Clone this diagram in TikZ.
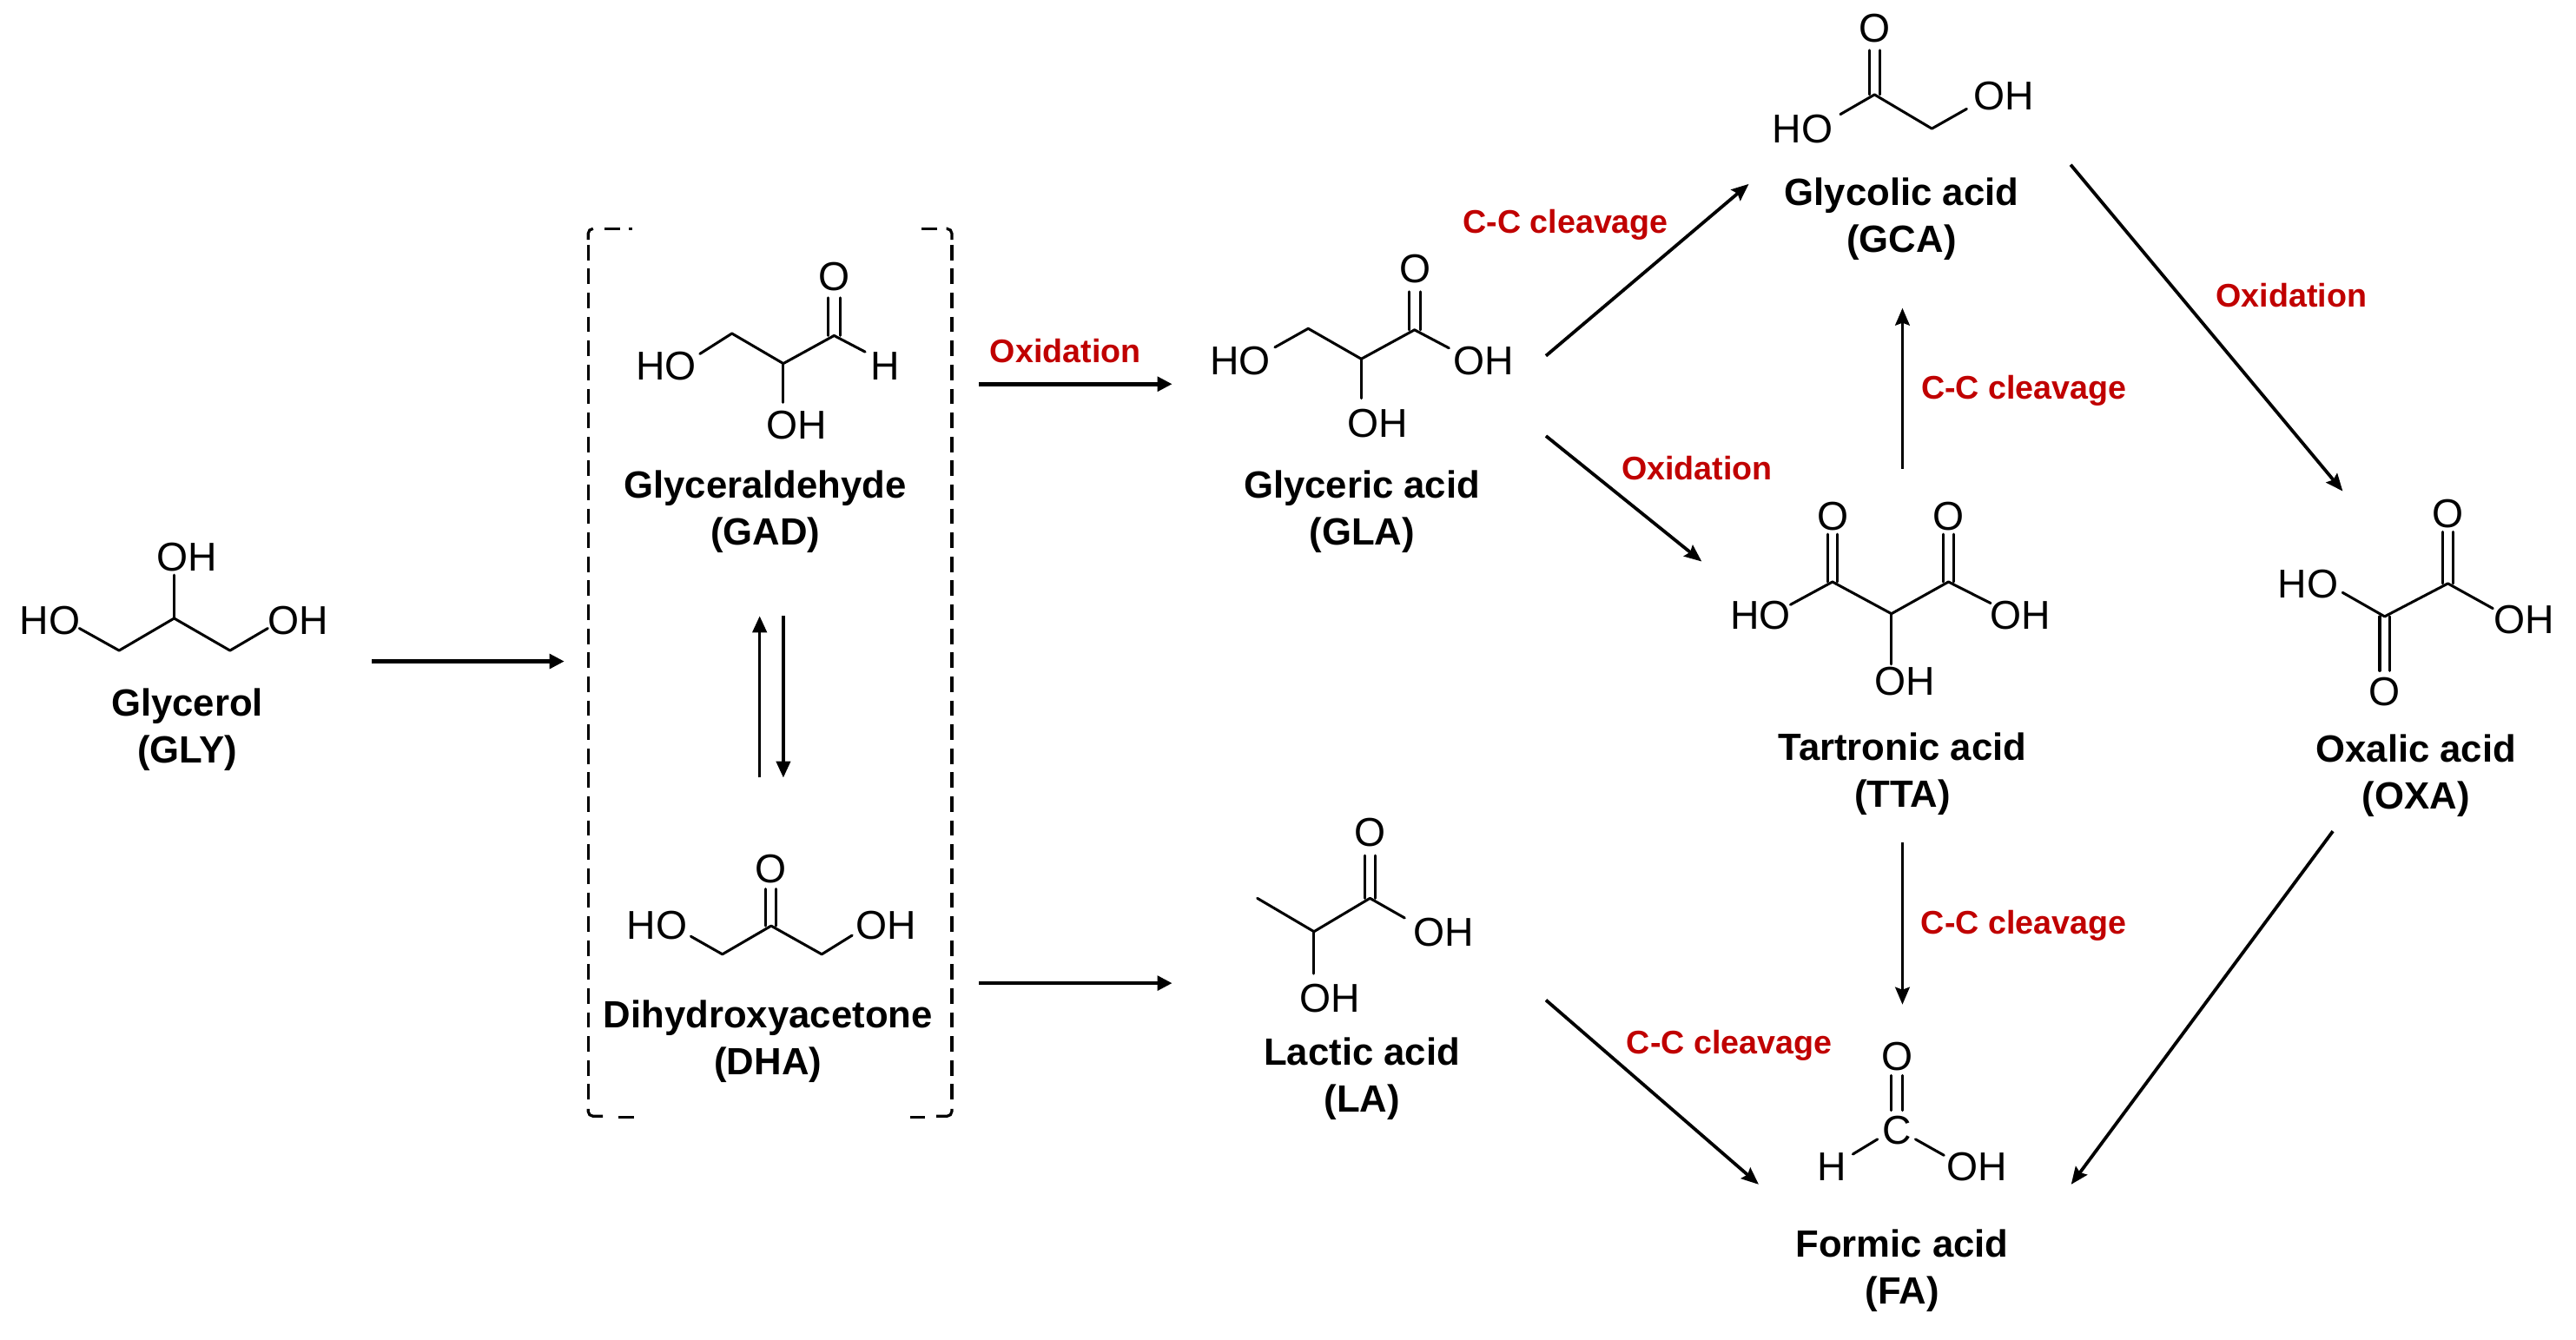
\documentclass[tikz,border=0pt]{standalone}
\usepackage{fontspec}
\setmainfont{Liberation Sans}
\usetikzlibrary{arrows.meta}
\definecolor{rxnred}{HTML}{C00000}
\tikzset{
  atom/.style={inner sep=0pt,font=\fontsize{24.5}{28}\selectfont},
  cname/.style={inner sep=0pt,align=center,font=\fontsize{23.1}{28.6}\selectfont\bfseries},
  rxn/.style={inner sep=0pt,text=rxnred,font=\fontsize{19.9}{24}\selectfont\bfseries},
  bond/.style={line width=1.6pt,line join=round,line cap=round},
  heavy/.style={line width=2.4pt,-{Triangle[length=9pt,width=8.7pt]}},
  thin arrow/.style={line width=2pt,-{Stealth[length=10.5pt,width=8.7pt,inset=1.5pt]}},
  updown/.style={line width=1.8pt,-{Triangle[length=10pt,width=8.6pt]}},
  brk/.style={line width=1.7pt,dash pattern=on 9.4pt off 5.2pt},
  brkcap/.style={line width=1.7pt},
}
\begin{document}
\begin{tikzpicture}[x=1pt,y=-1pt]
\useasboundingbox (0,0) rectangle (1568,815.2);

% ---------- text nodes
\node[atom] (glyHO) at (30.5,378) {HO};
\node[atom] (glyOHt) at (114,339.3) {OH};
\node[atom] (glyOHr) at (181.5,378) {OH};
\node[cname] (gly) at (114,444) {Glycerol\\(GLY)};

\node[atom] (gadHO) at (405.5,222.8) {HO};
\node[atom] (gadO) at (507.7,168.3) {O};
\node[atom] (gadH) at (539,222.8) {H};
\node[atom] (gadOH) at (485,258.9) {OH};
\node[cname] (gad) at (465.8,311.5) {Glyceraldehyde\\(GAD)};

\node[atom] (dhaHO) at (400,563.5) {HO};
\node[atom] (dhaO) at (469.4,529.1) {O};
\node[atom] (dhaOH) at (539.5,563.5) {OH};
\node[cname] (dha) at (467.5,634) {Dihydroxyacetone\\(DHA)};

\node[atom] (glaHO) at (755,219.7) {HO};
\node[atom] (glaO) at (861.6,163.8) {O};
\node[atom] (glaOHr) at (903,219.7) {OH};
\node[atom] (glaOHb) at (838.7,257.5) {OH};
\node[cname] (gla) at (829,311.5) {Glyceric acid\\(GLA)};

\node[atom] (laO) at (833.9,507) {O};
\node[atom] (laOHr) at (878.6,567.4) {OH};
\node[atom] (laOHb) at (809.3,607.7) {OH};
\node[cname] (la) at (829,656.5) {Lactic acid\\(LA)};

\node[atom] (gcaO) at (1141,17.1) {O};
\node[atom] (gcaHO) at (1097.3,78.6) {HO};
\node[atom] (gcaOH) at (1219.8,58.5) {OH};
\node[cname] (gca) at (1157.5,133.3) {Glycolic acid\\(GCA)};

\node[atom] (ttaO1) at (1115.5,314.1) {O};
\node[atom] (ttaO2) at (1186,314.1) {O};
\node[atom] (ttaHO) at (1071.7,374.6) {HO};
\node[atom] (ttaOHr) at (1230,374.6) {OH};
\node[atom] (ttaOHb) at (1159.5,415) {OH};
\node[cname] (tta) at (1158,471) {Tartronic acid\\(TTA)};

\node[atom] (oxaO1) at (1490,312.5) {O};
\node[atom] (oxaO2) at (1451.5,420.9) {O};
\node[atom] (oxaHO) at (1404.9,355.5) {HO};
\node[atom] (oxaOH) at (1536.4,377.2) {OH};
\node[cname] (oxa) at (1470.6,472) {Oxalic acid\\(OXA)};

\node[atom] (faO) at (1154.6,642.9) {O};
\node[atom] (faC) at (1154.6,688.3) {C};
\node[atom] (faH) at (1115.3,710.2) {H};
\node[atom] (faOH) at (1203.2,710.2) {OH};
\node[cname] (fa) at (1157.8,773.5) {Formic acid\\(FA)};

\node[rxn] (r1) at (648.5,213.7) {Oxidation};
\node[rxn] (r2) at (953,137) {C-C cleavage};
\node[rxn] (r3) at (1033,285) {Oxidation};
\node[rxn] (r4) at (1232,238) {C-C cleavage};
\node[rxn] (r5) at (1394.8,180) {Oxidation};
\node[rxn] (r6) at (1231.8,563.6) {C-C cleavage};
\node[rxn] (r7) at (1052.6,636.5) {C-C cleavage};

% ---------- bonds
% glycerol
\coordinate (g1) at (48.3,382.5);
\coordinate (g2) at (72.5,396);
\coordinate (g3) at (106,376.4);
\coordinate (g4) at (106,350);
\coordinate (g5) at (140,396);
\coordinate (g6) at (163,382.5);
\draw[bond] (g1) -- (g2) -- (g3) -- (g5) -- (g6);
\draw[bond] (g3) -- (g4);

% glyceraldehyde
\coordinate (a1) at (426,215.4);
\coordinate (a2) at (445.5,203);
\coordinate (a3) at (476.8,221.3);
\coordinate (a4) at (476.8,245);
\coordinate (a5) at (507.7,204.3);
\coordinate (a6) at (526.6,214.2);
\draw[bond] (a1) -- (a2) -- (a3) -- (a5) -- (a6);
\draw[bond] (a3) -- (a4);
\draw[bond] ([xshift=-3.6pt]a5) -- ++(0,-23);
\draw[bond] ([xshift=3.6pt]a5) -- ++(0,-23);

% dihydroxyacetone
\coordinate (d1) at (420.5,570);
\coordinate (d2) at (439.7,580.9);
\coordinate (d3) at (469.4,563.6);
\coordinate (d4) at (500.2,580.9);
\coordinate (d5) at (518.7,569.4);
\draw[bond] (d1) -- (d2) -- (d3) -- (d4) -- (d5);
\draw[bond] ([xshift=-3.2pt]d3) -- ++(0,-22.5);
\draw[bond] ([xshift=3.2pt]d3) -- ++(0,-22.5);

% glyceric acid
\coordinate (e1) at (776,211.4);
\coordinate (e2) at (796.3,200);
\coordinate (e3) at (828.6,218.5);
\coordinate (e4) at (828.6,242.5);
\coordinate (e5) at (861,200.8);
\coordinate (e6) at (882,211.9);
\draw[bond] (e1) -- (e2) -- (e3) -- (e5) -- (e6);
\draw[bond] (e3) -- (e4);
\draw[bond] ([xshift=-3.4pt]e5) -- ++(0,-23.2);
\draw[bond] ([xshift=3.4pt]e5) -- ++(0,-23.2);

% lactic acid
\coordinate (l1) at (765.3,546.8);
\coordinate (l2) at (799.8,567.1);
\coordinate (l3) at (799.8,592.7);
\coordinate (l4) at (833.9,546.8);
\coordinate (l5) at (855,558.8);
\draw[bond] (l1) -- (l2) -- (l4) -- (l5);
\draw[bond] (l2) -- (l3);
\draw[bond] ([xshift=-3.2pt]l4) -- ++(0,-26);
\draw[bond] ([xshift=3.2pt]l4) -- ++(0,-26);

% glycolic acid
\coordinate (c1) at (1120.2,69.6);
\coordinate (c2) at (1141,57.6);
\coordinate (c3) at (1175.9,78.3);
\coordinate (c4) at (1197.1,66.3);
\draw[bond] (c1) -- (c2) -- (c3) -- (c4);
\draw[bond] ([xshift=-3.2pt]c2) -- ++(0,-27);
\draw[bond] ([xshift=3.2pt]c2) -- ++(0,-27);

% tartronic acid
\coordinate (t1) at (1089.8,368.1);
\coordinate (t2) at (1115.4,354.2);
\coordinate (t3) at (1151.3,373.6);
\coordinate (t4) at (1186,354.2);
\coordinate (t5) at (1211.7,367.2);
\coordinate (t6) at (1151.3,404.4);
\draw[bond] (t1) -- (t2) -- (t3) -- (t4) -- (t5);
\draw[bond] (t3) -- (t6);
\draw[bond] ([xshift=-3pt]t2) -- ++(0,-29);
\draw[bond] ([xshift=3pt]t2) -- ++(0,-29);
\draw[bond] ([xshift=-3pt]t4) -- ++(0,-29);
\draw[bond] ([xshift=3pt]t4) -- ++(0,-29);

% oxalic acid
\coordinate (o1) at (1425.9,360.7);
\coordinate (o2) at (1451.5,375.3);
\coordinate (o3) at (1490,355.2);
\coordinate (o4) at (1517.4,370.4);
\draw[bond] (o1) -- (o2) -- (o3) -- (o4);
\draw[bond] ([xshift=-3pt]o3) -- ++(0,-31.5);
\draw[bond] ([xshift=3pt]o3) -- ++(0,-31.5);
\draw[bond] ([xshift=-3pt]o2) -- ++(0,33);
\draw[bond] ([xshift=3pt]o2) -- ++(0,33);

% formic acid
\coordinate (f1) at (1127.8,702.6);
\coordinate (f2) at (1142.8,693.5);
\coordinate (f3) at (1165.9,693.5);
\coordinate (f4) at (1183.3,703.3);
\coordinate (f5) at (1154.6,676);
\draw[bond] (f1) -- (f2);
\draw[bond] (f3) -- (f4);
\draw[bond] ([xshift=-3.4pt]f5) -- ++(0,-21.3);
\draw[bond] ([xshift=3.4pt]f5) -- ++(0,-21.3);

% ---------- bracket
\coordinate (bl1) at (358,149);
\coordinate (bl2) at (358,672);
\coordinate (br1) at (579.4,149);
\coordinate (br2) at (579.4,672);
\draw[brk] (bl1) -- (bl2);
\draw[brk] (br1) -- (br2);
\draw[brkcap,rounded corners=3pt] (358,146) -- (358,139.2) -- (361,139.2);
\draw[brkcap] (368,139.2) -- (377.5,139.2);
\draw[brkcap] (383,139.2) -- (385,139.2);
\draw[brkcap] (561,139.2) -- (570.5,139.2);
\draw[brkcap,rounded corners=3pt] (576,139.2) -- (579.4,139.2) -- (579.4,146);
\draw[brkcap,rounded corners=3pt] (358,675) -- (358,679.5) -- (367,679.5);
\draw[brkcap] (376.5,680) -- (386,680);
\draw[brkcap] (554,680) -- (563,680);
\draw[brkcap,rounded corners=3pt] (570,679.5) -- (579.4,679.5) -- (579.4,675);

% ---------- reaction arrows
\coordinate (a1s) at (226.5,402.6);
\coordinate (a1e) at (343.5,402.6);
\draw[heavy] (a1s) -- (a1e);
\coordinate (a2s) at (596,233.8);
\coordinate (a2e) at (713.5,233.8);
\draw[heavy] (a2s) -- (a2e);
\coordinate (a3s) at (596,598.5);
\coordinate (a3e) at (713.5,598.5);
\draw[heavy] (a3s) -- (a3e);
\coordinate (u1) at (462.4,473.4);
\coordinate (u2) at (462.4,375);
\draw[updown] (u1) -- (u2);
\coordinate (v1) at (476.8,375);
\coordinate (v2) at (476.8,473.4);
\draw[updown] (v1) -- (v2);
\coordinate (p1) at (941,216.6);
\coordinate (p2) at (1064.5,112);
\draw[thin arrow] (p1) -- (p2);
\coordinate (p3) at (941,265.4);
\coordinate (p4) at (1035.8,341.8);
\draw[thin arrow] (p3) -- (p4);
\coordinate (p5) at (1158,285.3);
\coordinate (p6) at (1158,187.5);
\draw[thin arrow] (p5) -- (p6);
\coordinate (p7) at (1260.4,100.3);
\coordinate (p8) at (1426,299);
\draw[thin arrow] (p7) -- (p8);
\coordinate (p9) at (1158,513);
\coordinate (p10) at (1158,611.5);
\draw[thin arrow] (p9) -- (p10);
\coordinate (p11) at (941,608.8);
\coordinate (p12) at (1070.5,721);
\draw[thin arrow] (p11) -- (p12);
\coordinate (p13) at (1420,506);
\coordinate (p14) at (1260.7,721);
\draw[thin arrow] (p13) -- (p14);
\end{tikzpicture}
\end{document}
